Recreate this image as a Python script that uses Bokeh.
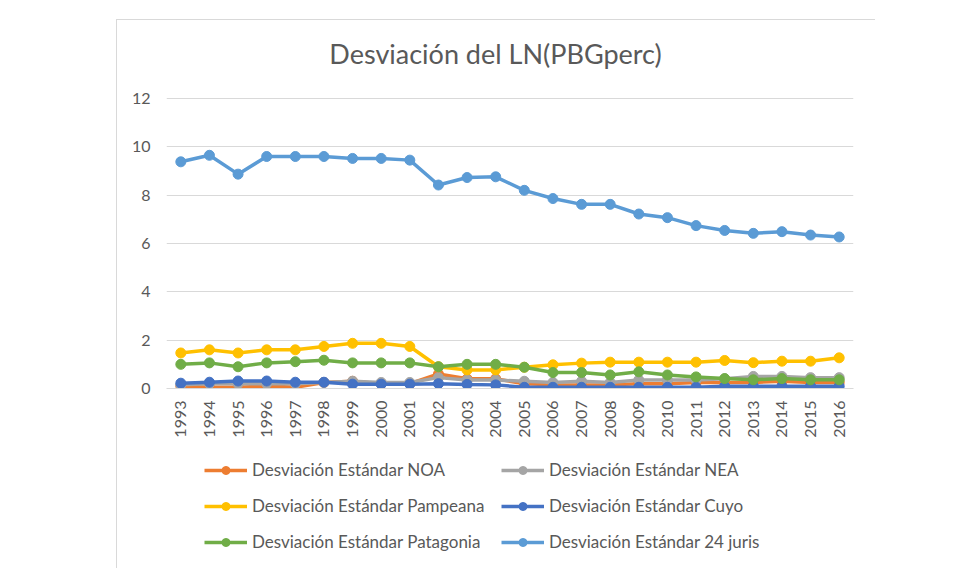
from bokeh.plotting import figure
from bokeh.layouts import column
from bokeh.models import Range1d, FixedTicker, Legend, LegendItem, Label
from bokeh.embed import file_html
from bokeh.resources import INLINE

years = list(range(1993, 2017))
noa = [0.10, 0.05, 0.05, 0.10, 0.05, 0.25, 0.30, 0.20, 0.20, 0.60, 0.40, 0.40,
       0.20, 0.15, 0.15, 0.15, 0.20, 0.20, 0.25, 0.25, 0.25, 0.30, 0.25, 0.25]
nea = [0.15, 0.20, 0.20, 0.20, 0.20, 0.25, 0.30, 0.25, 0.25, 0.45, 0.35, 0.35,
       0.30, 0.25, 0.30, 0.25, 0.35, 0.35, 0.35, 0.40, 0.50, 0.50, 0.45, 0.45]
pampeana = [1.47, 1.60, 1.47, 1.60, 1.60, 1.74, 1.87, 1.87, 1.74, 0.90, 0.77, 0.77,
            0.88, 0.98, 1.05, 1.09, 1.09, 1.09, 1.09, 1.16, 1.07, 1.13, 1.13, 1.27]
cuyo = [0.22, 0.26, 0.31, 0.31, 0.26, 0.26, 0.18, 0.18, 0.18, 0.20, 0.17, 0.15,
        0.05, 0.05, 0.05, 0.05, 0.05, 0.05, 0.05, 0.09, 0.09, 0.09, 0.09, 0.09]
patagonia = [1.00, 1.06, 0.90, 1.06, 1.11, 1.17, 1.06, 1.06, 1.06, 0.90, 1.00, 1.00,
             0.88, 0.66, 0.66, 0.56, 0.69, 0.56, 0.48, 0.41, 0.36, 0.41, 0.36, 0.36]
juris24 = [9.38, 9.65, 8.87, 9.60, 9.60, 9.60, 9.52, 9.52, 9.45, 8.42, 8.73, 8.76,
           8.20, 7.86, 7.62, 7.62, 7.22, 7.07, 6.74, 6.54, 6.42, 6.49, 6.35, 6.27]

series_names = ["Desviación Estándar NOA", "Desviación Estándar NEA",
                "Desviación Estándar Pampeana", "Desviación Estándar Cuyo",
                "Desviación Estándar Patagonia", "Desviación Estándar 24 juris"]
series_vals = [noa, nea, pampeana, cuyo, patagonia, juris24]
colors = ["#ED7D31", "#A5A5A5", "#FFC000", "#4472C4", "#70AD47", "#5B9BD5"]
y_ticks = [0, 2, 4, 6, 8, 10, 12]
title_text = "Desviación del LN(PBGperc)"

FONT = "Lato"
TXT = "#595959"
GRID = "#D9D9D9"

# page geometry (px): chart-area box starts at (116,19); content at (117,20)
CX, CY = 117, 20
W = 875 - CX
FL, FR, FT, FB = 166, 853, 98, 388     # plot area (0..12) edges
TOP = 30                               # frame extended upward to hold the title
HM = 424                               # main figure height
HL = 568 - (CY + HM)                   # legend strip height

def px_x(px):
    return 1992.5 + (px - FL) * 24.0 / (FR - FL)

def px_y(py):
    return (FB - py) * 12.0 / (FB - FT)

p = figure(width=W, height=HM, output_backend="svg", toolbar_location=None,
           x_range=Range1d(1992.5, 2016.5), y_range=Range1d(0, px_y(TOP)),
           min_border_left=FL - CX, min_border_right=(CX + W) - FR,
           min_border_top=TOP - CY, min_border_bottom=(CY + HM) - FB)
p.title = None
p.outline_line_color = None
p.background_fill_color = "white"
p.border_fill_color = "white"

p.xaxis.ticker = FixedTicker(ticks=years)
p.xaxis.major_label_orientation = 3.14159265 / 2
p.xaxis.axis_line_color = GRID
p.xaxis.major_tick_line_color = None
p.xaxis.minor_tick_line_color = None
p.xaxis.major_label_text_font = FONT
p.xaxis.major_label_text_font_size = "16px"
p.xaxis.major_label_text_color = TXT
p.xaxis.major_label_standoff = 6

p.yaxis.ticker = FixedTicker(ticks=y_ticks)
p.yaxis.axis_line_color = None
p.yaxis.major_tick_line_color = None
p.yaxis.minor_tick_line_color = None
p.yaxis.major_label_text_font = FONT
p.yaxis.major_label_text_font_size = "16px"
p.yaxis.major_label_text_color = TXT
p.yaxis.major_label_standoff = 10

p.xgrid.grid_line_color = None
p.ygrid.grid_line_color = GRID
p.ygrid.grid_line_width = 1

for vals, col in zip(series_vals, colors):
    p.line(years, vals, line_color=col, line_width=3.5)
    p.scatter(years, vals, marker="circle", size=10, fill_color=col, line_color=col)

p.add_layout(Label(x=px_x(495), y=px_y(53), text=title_text, text_align="center",
                   text_baseline="alphabetic", text_font=FONT, text_font_size="27px",
                   text_color=TXT))

# legend strip (same series; their marks fall outside this strip's ranges)
lg = figure(width=W, height=HL, output_backend="svg", toolbar_location=None,
            x_range=Range1d(0, 1), y_range=Range1d(0, 1),
            x_axis_location=None, y_axis_location=None,
            min_border_left=0, min_border_right=0, min_border_top=0, min_border_bottom=0)
lg.title = None
lg.outline_line_color = None
lg.grid.grid_line_color = None
lg.background_fill_color = "white"
lg.border_fill_color = "white"

items = []
for name, vals, col in zip(series_names, series_vals, colors):
    lr = lg.line(years, vals, line_color=col, line_width=3.5)
    sr = lg.scatter(years, vals, marker="circle", size=10, fill_color=col, line_color=col)
    items.append(LegendItem(label=name, renderers=[lr, sr]))

legend = Legend(items=items, location=(205 - CX - 50, (CY + HM + HL) - 552),
                orientation="horizontal", ncols=2,
                glyph_width=43, glyph_height=20, label_height=20, label_width=234,
                spacing=15, label_standoff=5, padding=0, margin=0,
                border_line_color=None, background_fill_alpha=0,
                label_text_font=FONT, label_text_font_size="17px",
                label_text_color=TXT)
lg.add_layout(legend)

layout = column(p, lg)
layout.styles = {"margin-left": "116px", "margin-top": "19px",
                 "border-top": "1px solid #D9D9D9", "border-left": "1px solid #D9D9D9"}

open("out.html", "w").write(file_html(layout, INLINE))
